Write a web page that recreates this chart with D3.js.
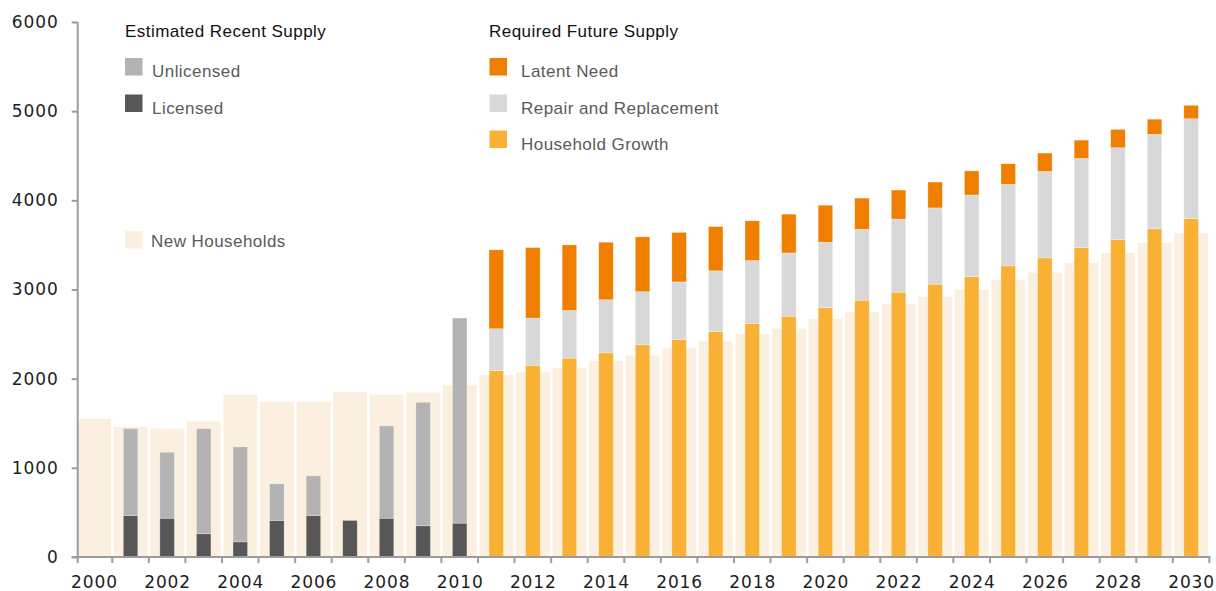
<!DOCTYPE html>
<html>
<head>
<meta charset="utf-8">
<script src="https://cdn.jsdelivr.net/npm/d3@7"></script>
<style>
  html, body { margin: 0; padding: 0; background: #ffffff; }
  svg { display: block; }
</style>
</head>
<body>
<div id="chart"></div>
<script>
// ---------- DATA ----------
const years = [2000,2001,2002,2003,2004,2005,2006,2007,2008,2009,2010,
               2011,2012,2013,2014,2015,2016,2017,2018,2019,2020,
               2021,2022,2023,2024,2025,2026,2027,2028,2029,2030];
const newHouseholds = [1550,1460,1440,1520,1820,1740,1740,1850,1820,1845,1930,
                       2040,2070,2120,2200,2260,2340,2420,2505,2560,2670,
                       2750,2840,2920,3000,3110,3190,3300,3410,3520,3630];

const recentYears = [2001,2002,2003,2004,2005,2006,2007,2008,2009,2010];
const licensed    = [465, 435, 260, 170, 410, 465, 410, 435, 350, 380];
const unlicensed  = [975, 740, 1180,1065,410, 445, 0,   1035,1385,2300];

const futureYears = [2011,2012,2013,2014,2015,2016,2017,2018,2019,2020,
                     2021,2022,2023,2024,2025,2026,2027,2028,2029,2030];
const householdGrowth = [2090,2150,2230,2290,2380,2440,2530,2620,2700,2795,
                         2880,2970,3060,3145,3265,3355,3470,3560,3680,3795];
const repairReplacement = [470,530,535,595,595,645,680,705,710,735,
                           795,820,855,915,915,970,1000,1030,1060,1120];
const latentNeed = [885,790,735,645,615,555,495,445,435,415,
                    350,325,290,270,230,205,205,205,170,150];

const yTicks = [0,1000,2000,3000,4000,5000,6000];
const xLabelYears = [2000,2002,2004,2006,2008,2010,2012,2014,2016,2018,2020,2022,2024,2026,2028,2030];

const colors = {
  newHouseholds: "#FBEFDF",
  unlicensed: "#B3B3B3",
  licensed: "#575757",
  latent: "#F07F00",
  repair: "#D8D8D8",
  growth: "#F8B135"
};

// ---------- LAYOUT ----------
const W = 1216, H = 591;
const svg = d3.select("#chart").append("svg").attr("width", W).attr("height", H);

const x = d3.scaleBand().domain(years).range([75.7, 1209.4]).padding(0);
const y = d3.scaleLinear().domain([0, 6000]).range([557, 22]);
const bw = x.bandwidth();
const narrow = 14.5;

// New households (background)
svg.append("g").selectAll("rect")
  .data(years.map((yr, i) => ({ yr, v: newHouseholds[i] })))
  .join("rect")
  .attr("x", d => x(d.yr) + 1.5)
  .attr("width", bw - 2.8)
  .attr("y", d => y(d.v))
  .attr("height", d => y(0) - y(d.v))
  .attr("fill", colors.newHouseholds);

// Recent supply stacks
const recentRows = recentYears.map((yr, i) => ({ yr, licensed: licensed[i], unlicensed: unlicensed[i] }));
const recentStack = d3.stack().keys(["licensed", "unlicensed"])(recentRows);
svg.append("g").selectAll("g")
  .data(recentStack)
  .join("g")
  .attr("fill", s => colors[s.key])
  .selectAll("rect")
  .data(s => s.filter(d => d[1] - d[0] > 0))
  .join("rect")
  .attr("x", d => x(d.data.yr) + bw / 2 - narrow / 2)
  .attr("width", narrow)
  .attr("y", d => y(d[1]))
  .attr("height", d => y(d[0]) - y(d[1]))
  .attr("stroke", "rgba(255,255,255,0.45)")
  .attr("stroke-width", 0.6);

// Future supply stacks
const futureRows = futureYears.map((yr, i) => ({ yr, growth: householdGrowth[i], repair: repairReplacement[i], latent: latentNeed[i] }));
const futureStack = d3.stack().keys(["growth", "repair", "latent"])(futureRows);
svg.append("g").selectAll("g")
  .data(futureStack)
  .join("g")
  .attr("fill", s => colors[s.key])
  .selectAll("rect")
  .data(s => s)
  .join("rect")
  .attr("x", d => x(d.data.yr) + bw / 2 - narrow / 2)
  .attr("width", narrow)
  .attr("y", d => y(d[1]))
  .attr("height", d => y(d[0]) - y(d[1]))
  .attr("stroke", "rgba(255,255,255,0.45)")
  .attr("stroke-width", 0.6);

// ---------- AXES ----------
const axisColor = "#9c9c9c";
const tickFont = "'DejaVu Sans', sans-serif";

// Y axis
const yAxis = d3.axisLeft(y).tickValues(yTicks).tickFormat(d3.format("d"))
  .tickSize(6).tickPadding(13).tickSizeOuter(0);
const yg = svg.append("g").attr("transform", "translate(77.7,0)").call(yAxis);
yg.select(".domain").remove();
yg.append("line").attr("x1", 0).attr("x2", 0).attr("y1", y(6000)).attr("y2", 563)
  .attr("stroke", axisColor).attr("stroke-width", 2);
yg.selectAll(".tick line").attr("stroke", axisColor).attr("stroke-width", 2);
yg.selectAll(".tick text")
  .attr("font-family", tickFont).attr("font-size", 17).attr("fill", "#1e1e1e")
  .attr("letter-spacing", "0.9px");

// X axis
const xg = svg.append("g");
xg.append("line").attr("x1", 71.7).attr("x2", x.range()[1] + 1).attr("y1", y(0)).attr("y2", y(0))
  .attr("stroke", axisColor).attr("stroke-width", 2);
const boundaries = years.slice(1).map(yr => x(yr)).concat([x.range()[1]]);
xg.selectAll("line.xt").data(boundaries).join("line").attr("class", "xt")
  .attr("x1", d => d).attr("x2", d => d).attr("y1", y(0)).attr("y2", 563)
  .attr("stroke", axisColor).attr("stroke-width", 2);
xg.selectAll("text").data(xLabelYears).join("text")
  .attr("x", d => x(d) + bw / 2 + 0.5)
  .attr("y", 588)
  .attr("text-anchor", "middle")
  .attr("font-family", tickFont).attr("font-size", 17).attr("fill", "#1e1e1e")
  .attr("letter-spacing", "0.9px")
  .text(d => d);

// ---------- LEGEND ----------
const legendFont = "'Liberation Sans', Arial, sans-serif";
function legendTitle(tx, ty, label) {
  svg.append("text").attr("x", tx).attr("y", ty)
    .attr("font-family", legendFont).attr("font-size", 17).attr("letter-spacing", "0.45px")
    .attr("fill", "#111").text(label);
}
function legendItem(sx, sy, tx, ty, color, label) {
  svg.append("rect").attr("x", sx).attr("y", sy).attr("width", 17.5).attr("height", 17.5).attr("fill", color);
  svg.append("text").attr("x", tx).attr("y", ty)
    .attr("font-family", legendFont).attr("font-size", 17).attr("letter-spacing", "0.45px")
    .attr("fill", "#5a5a5a").text(label);
}
legendTitle(125, 36.5, "Estimated Recent Supply");
legendItem(125, 58, 152, 77, colors.unlicensed, "Unlicensed");
legendItem(125, 94.5, 152, 113.5, colors.licensed, "Licensed");
legendItem(125, 231, 151, 246.5, colors.newHouseholds, "New Households");

legendTitle(489, 36.5, "Required Future Supply");
legendItem(489.5, 58, 521, 77, colors.latent, "Latent Need");
legendItem(489.5, 94.5, 521, 113.5, colors.repair, "Repair and Replacement");
legendItem(489.5, 130.5, 521, 149.5, colors.growth, "Household Growth");
</script>
</body>
</html>
